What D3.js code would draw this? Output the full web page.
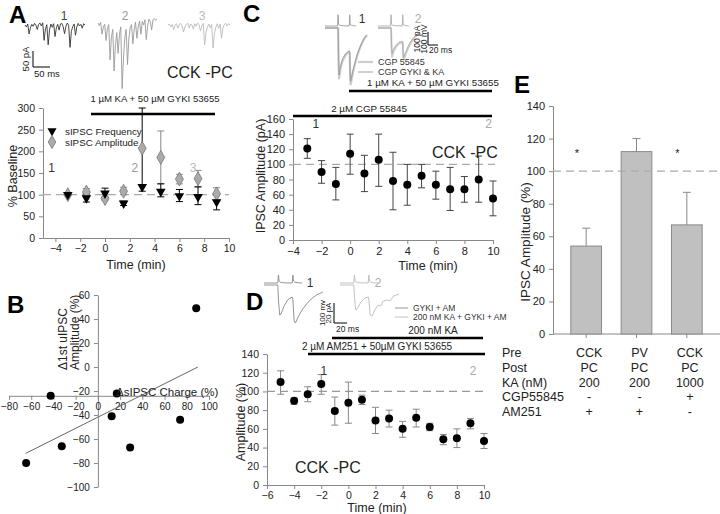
<!DOCTYPE html>
<html><head><meta charset="utf-8">
<script src="https://cdn.jsdelivr.net/npm/d3@7"></script>
<style>body{margin:0;background:#fff}svg{display:block}text{font-family:"Liberation Sans",Arial,sans-serif}</style>
</head><body><svg id="c" width="720" height="514"></svg>
<script>
// ---------- Panel A data ----------
const aTimes = [-3, -1.5, 0, 1.5, 3, 4.5, 6, 7.5, 9];
const aFreq   = [100, 92, 103, 80, 118, 107, 97, 95, 83];
const aFreqHi = [100, 102, 115, 85, 300, 125, 112, 118, 100];
const aFreqLo = [100, 83, 93, 75, 108, 95, 84, 77, 65];
const aAmp    = [100, 106, 91, 108, 207, 186, 136, 137, 102];
const aAmpHi  = [100, 114, 95, 117, 207, 247, 147, 156, 116];
const aAmpLo  = [100, 98, 87, 100, 207, 125, 125, 118, 88];
const aXTicks = [-4, -2, 0, 2, 4, 6, 8, 10];
const aYTicks = [0, 50, 100, 150, 200, 250, 300];
// sample traces (pA, 4 ms per sample)
const traceA1 = [0,-6,3,-28,-8,2,-4,5,-1,-14,2,6,-3,7,-48,-12,1,-62,-15,3,-7,4,-36,-9,2,-16,3,5,-5,-27,-4,6,-1,-70,-20,-5,3,-32,-6,5,-3,2,-10,4,0];
const traceA2 = [0,-8,2,-35,-12,-4,-55,-18,-5,-115,-45,-20,-150,-70,-30,-95,-35,-12,-205,-110,-45,-20,-130,-50,-15,-5,-65,-20,3,-48,-12,6,-35,5,-6,10,-52,-10,12,4,-22,10,14,8,12];
const traceA3 = [0,3,-6,2,-15,0,4,-10,2,5,-3,-22,-6,2,6,-9,3,0,-13,4,-4,6,2,-18,-3,5,-62,-22,-6,3,-9,2,-72,-26,-6,4,-11,3,-42,-9,2,5,-3,4,0];

// ---------- Panel B data ----------
const bCharge = [-42.5, 17, 12.4, 29, -32.5, -64.6, 74, 88.5];
const bAmp    = [-24, -22, -41, -67, -66, -80, -44, 49];
const bFitX = [-65, 90];
const bFitY = [-72, 0];
const bXTicks = [-80, -60, -40, -20, 0, 20, 40, 60, 80, 100];
const bYTicks = [-100, -80, -60, -40, -20, 0, 20, 40, 60];

// ---------- Panel C data ----------
const cTimes = [-3, -2, -1, 0, 1, 2, 3, 4, 5, 6, 7, 8, 9, 10];
const cAmp   = [121, 90, 74, 114, 88, 106, 78, 73, 85, 73, 67, 67, 80, 55];
const cHi    = [134, 105, 96, 140, 112, 140, 116, 100, 100, 91, 96, 84, 111, 78];
const cLo    = [108, 75, 53, 87, 64, 71, 40, 46, 69, 54, 39, 50, 50, 32];
const cXTicks = [-4, -2, 0, 2, 4, 6, 8, 10];
const cYTicks = [0, 20, 40, 60, 80, 100, 120, 140, 160];
const cVolt = [[0,0],[27,0],[28,90],[29,15],[31,6],[36,3],[45,1],[52,0],[53,90],[54,15],[56,6],[61,3],[66,0]];
const cCurCtl = [[0,0],[28,0],[29,-250],[30,-420],[31,-400],[33,-340],[38,-270],[45,-220],[52,-200],[53,-210],[54,-420],[55,-470],[56,-450],[60,-370],[65,-290],[70,-220],[75,-165],[80,-120],[85,-85],[90,-60]];
const cCurKA  = [[0,0],[28,0],[29,-230],[30,-390],[31,-375],[33,-320],[38,-255],[45,-210],[52,-190],[53,-200],[54,-400],[55,-445],[56,-430],[60,-350],[65,-275],[70,-210],[75,-160],[80,-115],[85,-80],[90,-55]];
const cCur2a  = [[0,0],[28,0],[29,-150],[30,-240],[31,-230],[33,-200],[38,-160],[45,-130],[52,-120],[53,-125],[54,-240],[55,-265],[56,-255],[60,-210],[65,-165],[70,-125],[75,-95],[80,-70],[85,-55],[90,-40]];
const cCur2b  = [[0,0],[28,0],[29,-130],[30,-215],[31,-205],[33,-180],[38,-145],[45,-120],[52,-110],[53,-115],[54,-220],[55,-245],[56,-235],[60,-195],[65,-150],[70,-115],[75,-88],[80,-65],[85,-50],[90,-36]];

// ---------- Panel D data ----------
const dTimes = [-5, -4, -3, -2, -1, 0, 1, 2, 3, 4, 5, 6, 7, 8, 9, 10];
const dAmp   = [110, 90, 97, 108, 79, 88, 91, 69, 71, 60, 72, 62, 49, 50, 66, 47];
const dHi    = [122, 93, 105, 118, 94, 110, 96, 83, 80, 68, 81, 66, 54, 60, 71, 55];
const dLo    = [97, 86, 89, 97, 64, 66, 86, 55, 62, 51, 62, 58, 43, 40, 60, 39];
const dXTicks = [-6, -4, -2, 0, 2, 4, 6, 8, 10];
const dYTicks = [0, 20, 40, 60, 80, 100, 120, 140];
const dVolt = [[0,0],[21,0],[22,40],[23,10],[25,4],[30,1],[43,0],[44,40],[45,10],[47,4],[52,1],[58,0]];
const dCur1 = [[0,0],[21,0],[22,-15],[24,-30],[26,-29],[30,-22],[36,-15],[43,-12],[44,-14],[46,-36],[48,-38],[52,-32],[58,-25],[65,-19],[72,-14],[80,-10],[90,-7]];
const dCur2 = [[0,0],[21,0],[22,-12],[24,-25],[27,-23],[32,-17],[38,-13],[43,-12],[44,-14],[46,-30],[49,-31],[53,-25],[58,-20],[62,-21],[66,-16],[72,-15],[76,-16],[82,-11],[90,-9]];

// ---------- Panel E data ----------
const eAmp = [54, 112, 67];
const eErr = [11, 8, 20];
const eSig = ["*", "", "*"];
const eYTicks = [0, 20, 40, 60, 80, 100, 120, 140];
const eRowLabels = ["Pre", "Post", "KA (nM)", "CGP55845", "AM251"];
const ePre  = ["CCK", "PV", "CCK"];
const ePost = ["PC", "PC", "PC"];
const eKA   = ["200", "200", "1000"];
const eCGP  = ["-", "-", "+"];
const eAM   = ["+", "+", "-"];

// ================= drawing =================
const svg = d3.select('#c');
const AX = '#888', TX = '#222';

function txt(x, y, s, o = {}) {
  return svg.append('text').attr('x', x).attr('y', y).text(s)
    .attr('font-size', o.size || 11).attr('fill', o.fill || TX)
    .attr('text-anchor', o.anchor || 'start').attr('font-weight', o.weight || 'normal');
}
function rtxt(x, y, s, o = {}) {
  return svg.append('text').attr('transform', `translate(${x},${y}) rotate(-90)`).text(s)
    .attr('font-size', o.size || 11).attr('fill', o.fill || TX)
    .attr('text-anchor', o.anchor || 'middle');
}
function styleAx(g, fs) {
  g.selectAll('path.domain').attr('stroke', AX);
  g.selectAll('.tick line').attr('stroke', AX);
  g.selectAll('.tick text').attr('fill', TX).attr('font-size', fs || 11)
    .attr('font-family', '"Liberation Sans",Arial,sans-serif');
}
function axisLeft(scale, x, ticks, fs) {
  const g = svg.append('g').attr('transform', `translate(${x},0)`)
    .call(d3.axisLeft(scale).tickValues(ticks).tickSize(4).tickSizeOuter(0).tickPadding(4));
  styleAx(g, fs); return g;
}
function axisBottom(scale, y, ticks, fs) {
  const ax = d3.axisBottom(scale).tickValues(ticks).tickSize(4).tickSizeOuter(0).tickPadding(3);
  const g = svg.append('g').attr('transform', `translate(0,${y})`).call(ax);
  styleAx(g, fs); return g;
}
function hline(x1, x2, y, o = {}) {
  return svg.append('line').attr('x1', x1).attr('x2', x2).attr('y1', y).attr('y2', y)
    .attr('stroke', o.stroke || '#000').attr('stroke-width', o.w || 1)
    .attr('stroke-dasharray', o.dash || null);
}
function vline(x, y1, y2, o = {}) {
  return svg.append('line').attr('x1', x).attr('x2', x).attr('y1', y1).attr('y2', y2)
    .attr('stroke', o.stroke || '#000').attr('stroke-width', o.w || 1);
}
function errBars(xs, his, los, xS, yS, color, cap) {
  const g = svg.append('g').attr('stroke', color).attr('stroke-width', 1);
  xs.forEach((t, i) => {
    const x = xS(t);
    g.append('line').attr('x1', x).attr('x2', x).attr('y1', yS(his[i])).attr('y2', yS(los[i]));
    g.append('line').attr('x1', x - cap).attr('x2', x + cap).attr('y1', yS(his[i])).attr('y2', yS(his[i]));
    g.append('line').attr('x1', x - cap).attr('x2', x + cap).attr('y1', yS(los[i])).attr('y2', yS(los[i]));
  });
}
const dash = '8,5';

// ---------- Panel A ----------
txt(9, 23, 'A', { size: 24, weight: 'bold', fill: '#000' });
const xA = d3.scaleLinear().domain([-5, 10]).range([43, 229]);
const yA = d3.scaleLinear().domain([0, 300]).range([238, 108]);
axisLeft(yA, 43, aYTicks, 10.5);
axisBottom(xA, 238, aXTicks, 10.5);
hline(43, 229, yA(100), { stroke: '#aaa', w: 1.3, dash });
rtxt(17, 176, '% Baseline', { size: 12.5 });
txt(136, 269, 'Time (min)', { size: 12.5, anchor: 'middle' });
errBars(aTimes, aAmpHi, aAmpLo, xA, yA, '#888', 3.5);
errBars(aTimes, aFreqHi, aFreqLo, xA, yA, '#000', 3.5);
svg.append('g').selectAll('path').data(aTimes).join('path')
  .attr('d', d3.symbol(d3.symbolDiamond, 55)())
  .attr('transform', (d, i) => `translate(${xA(d)},${yA(aAmp[i])})`)
  .attr('fill', '#aaa').attr('stroke', '#777').attr('stroke-width', 0.8);
svg.append('g').selectAll('path').data(aTimes).join('path')
  .attr('d', d3.symbol(d3.symbolTriangle, 40)())
  .attr('transform', (d, i) => `translate(${xA(d)},${yA(aFreq[i])}) rotate(180)`)
  .attr('fill', '#000');
// legend
svg.append('path').attr('d', d3.symbol(d3.symbolTriangle, 36)()).attr('transform', 'translate(52,131) rotate(180)').attr('fill', '#000');
txt(65, 134.5, 'sIPSC Frequency', { size: 9.8 });
svg.append('path').attr('d', d3.symbol(d3.symbolDiamond, 50)()).attr('transform', 'translate(52,142)').attr('fill', '#aaa').attr('stroke', '#777').attr('stroke-width', 0.8);
txt(65, 145.5, 'sIPSC Amplitude', { size: 9.8 });
txt(xA(-4.3), yA(150) - 1, '1', { size: 12, fill: '#333', anchor: 'middle' });
txt(xA(2.4), yA(150) - 1, '2', { size: 12, fill: '#999', anchor: 'middle' });
txt(xA(7.1), yA(150) - 1, '3', { size: 12, fill: '#bbb', anchor: 'middle' });
hline(91, 215, 114, { w: 2.5 });
txt(155, 102, '1 µM KA + 50 µM GYKI 53655', { size: 9.6, anchor: 'middle' });
txt(167, 78, 'CCK -PC', { size: 16 });
// A traces
function drawTrace(vals, x0, x1, y0, color) {
  const xs = d3.scaleLinear().domain([0, (vals.length - 1) * 4]).range([x0, x1]);
  const ys = d3.scaleLinear().domain([0, -50]).range([y0, y0 + 16]);
  svg.append('path').datum(vals).attr('fill', 'none').attr('stroke', color).attr('stroke-width', 0.9)
    .attr('d', d3.line().x((d, i) => xs(i * 4)).y(d => ys(d)));
}
drawTrace(traceA1, 25, 85, 25, '#333');
drawTrace(traceA2, 98, 157, 23, '#999');
drawTrace(traceA3, 168, 230, 25, '#bbb');
txt(64, 20, '1', { size: 12, fill: '#444', anchor: 'middle' });
txt(125, 20, '2', { size: 12, fill: '#999', anchor: 'middle' });
txt(202, 20, '3', { size: 12, fill: '#bbb', anchor: 'middle' });
vline(33, 51, 67); hline(33, 50, 67);
rtxt(29, 59, '50 pA', { size: 9.5 });
txt(34, 77, '50 ms', { size: 9.5 });

// ---------- Panel B ----------
txt(7, 313, 'B', { size: 24, weight: 'bold', fill: '#000' });
const xB = d3.scaleLinear().domain([-80, 100]).range([9, 209]);
const yB = d3.scaleLinear().domain([-100, 60]).range([487, 295]);
axisLeft(yB, xB(0), bYTicks, 10);
axisBottom(xB, yB(-24), bXTicks, 10);
svg.append('line').attr('x1', xB(bFitX[0])).attr('x2', xB(bFitX[1]))
  .attr('y1', yB(bFitY[0])).attr('y2', yB(bFitY[1])).attr('stroke', '#666').attr('stroke-width', 1);
svg.append('g').selectAll('circle').data(bCharge).join('circle')
  .attr('cx', d => xB(d)).attr('cy', (d, i) => yB(bAmp[i])).attr('r', 4).attr('fill', '#000');
txt(116, 396, 'ΔsIPSC Charge (%)', { size: 11.5 });
rtxt(67, 370, 'Δ1st uIPSC', { size: 12, anchor: 'start' });
rtxt(79, 370, 'Amplitude (%)', { size: 12, anchor: 'start' });

// ---------- Panel C ----------
txt(243, 22, 'C', { size: 24, weight: 'bold', fill: '#000' });
const xC = d3.scaleLinear().domain([-4, 10]).range([293, 493]);
const yC = d3.scaleLinear().domain([0, 160]).range([240, 119]);
axisLeft(yC, 293, cYTicks, 11);
axisBottom(xC, 240, cXTicks, 11);
hline(293, 495, yC(100), { stroke: '#aaa', w: 1.3, dash });
errBars(cTimes, cHi, cLo, xC, yC, '#444', 3.5);
svg.append('g').selectAll('circle').data(cTimes).join('circle')
  .attr('cx', d => xC(d)).attr('cy', (d, i) => yC(cAmp[i])).attr('r', 4).attr('fill', '#000');
rtxt(265, 176, 'IPSC Amplitude (pA)', { size: 12.5 });
txt(428, 270, 'Time (min)', { size: 12.5, anchor: 'middle' });
txt(432, 158, 'CCK -PC', { size: 16 });
hline(293, 492, 116, { w: 2.5 });
txt(369, 112, '2 µM CGP 55845', { size: 9.8, anchor: 'middle' });
hline(349, 492, 91, { w: 2.5 });
txt(433, 86, '1 µM KA + 50 µM GYKI 53655', { size: 9.8, anchor: 'middle' });
txt(xC(-2.4), 128, '1', { size: 12, fill: '#333', anchor: 'middle' });
txt(xC(9.7), 128, '2', { size: 12, fill: '#aaa', anchor: 'middle' });
// C traces
function drawEphys(pts, x0, x1, yZero, pxPerUnit, color, w) {
  const xs = d3.scaleLinear().domain([0, 90]).range([x0, x1]);
  const ys = d3.scaleLinear().domain([0, 100]).range([yZero, yZero - pxPerUnit * 100]);
  svg.append('path').datum(pts).attr('fill', 'none').attr('stroke', color).attr('stroke-width', w)
    .attr('stroke-linejoin', 'round')
    .attr('d', d3.line().x(d => xs(d[0])).y(d => ys(d[1])));
}
drawEphys(cCurCtl, 325, 367, 28, 0.12, '#ccc', 2.2);
drawEphys(cCurKA, 325, 367, 28, 0.12, '#999', 0.9);
drawEphys(cVolt, 325, 367, 26, 0.125, '#999', 0.9);
drawEphys(cCur2a, 378, 420, 28, 0.12, '#d0d0d0', 2);
drawEphys(cCur2b, 378, 420, 28, 0.12, '#aaa', 0.9);
drawEphys(cVolt, 378, 420, 26, 0.125, '#aaa', 0.9);
txt(362, 23, '1', { size: 12, fill: '#333', anchor: 'middle' });
txt(418, 23, '2', { size: 12, fill: '#aaa', anchor: 'middle' });
vline(428, 32, 45, { w: 1 }); hline(428, 438, 45);
rtxt(420, 39, '100 pA', { size: 8.5 });
rtxt(427, 39, '100 mV', { size: 8.5 });
txt(429, 53, '20 ms', { size: 8.5 });
hline(358, 373, 62, { stroke: '#ccc', w: 2.2 });
txt(378, 65, 'CGP 55845', { size: 9, fill: '#333' });
hline(358, 373, 72, { stroke: '#999', w: 0.9 });
txt(378, 75, 'CGP GYKI & KA', { size: 9, fill: '#333' });

// ---------- Panel D ----------
txt(246, 310, 'D', { size: 24, weight: 'bold', fill: '#000' });
const xD = d3.scaleLinear().domain([-6, 10]).range([267, 484]);
const yD = d3.scaleLinear().domain([0, 140]).range([485, 354]);
axisLeft(yD, 267, dYTicks, 10.5);
axisBottom(xD, 485, dXTicks, 10.5);
hline(267, 484, yD(100), { stroke: '#999', w: 1.3, dash });
errBars(dTimes, dHi, dLo, xD, yD, '#888', 3.5);
svg.append('g').selectAll('circle').data(dTimes).join('circle')
  .attr('cx', d => xD(d)).attr('cy', (d, i) => yD(dAmp[i])).attr('r', 4).attr('fill', '#000');
rtxt(245, 422, 'Amplitude (%)', { size: 12.5 });
txt(377, 512, 'Time (min)', { size: 12.5, anchor: 'middle' });
txt(295, 473, 'CCK -PC', { size: 16 });
hline(308, 485, 354, { w: 2.5 });
txt(377, 350, '2 µM AM251  + 50µM GYKI 53655', { size: 10, anchor: 'middle' });
hline(332, 483, 338, { w: 2.5 });
txt(433, 334, '200 nM KA', { size: 10, anchor: 'middle' });
txt(xD(-1.8), yD(122) + 4, '1', { size: 12, fill: '#333', anchor: 'middle' });
txt(xD(9.2), yD(122) + 4, '2', { size: 12, fill: '#aaa', anchor: 'middle' });
drawEphys(dCur1, 264, 323, 285, 1.0, '#888', 0.9);
drawEphys(dVolt, 264, 323, 283, 0.2, '#888', 0.9);
drawEphys(dCur2, 340, 399, 285, 1.0, '#bbb', 0.9);
drawEphys(dVolt, 340, 399, 283, 0.2, '#bbb', 0.9);
txt(310, 287, '1', { size: 12, fill: '#333', anchor: 'middle' });
txt(378, 287, '2', { size: 12, fill: '#aaa', anchor: 'middle' });
vline(334, 303, 323); hline(334, 347, 323);
rtxt(325, 313, '100 mv', { size: 8 });
rtxt(331, 313, '20 pA', { size: 8 });
txt(336, 332, '20 ms', { size: 8.5 });
hline(395, 408, 308, { stroke: '#888', w: 0.9 });
txt(413, 311, 'GYKI + AM', { size: 8.5, fill: '#333' });
hline(395, 408, 317, { stroke: '#bbb', w: 0.9 });
txt(413, 320, '200 nM KA + GYKI + AM', { size: 8.5, fill: '#333' });

// ---------- Panel E ----------
txt(514, 93, 'E', { size: 24, weight: 'bold', fill: '#000' });
const yE = d3.scaleLinear().domain([0, 140]).range([334, 106]);
const xE = d3.scaleBand().domain([0, 1, 2]).range([561, 712]).paddingInner(0.39).paddingOuter(0.195);
axisLeft(yE, 553, eYTicks, 11);
svg.append('line').attr('x1', 553).attr('x2', 720).attr('y1', 334).attr('y2', 334).attr('stroke', AX);
[0, 1, 2].forEach(i => vline(xE(i) + xE.bandwidth() / 2, 334, 338, { stroke: AX }));
svg.append('g').selectAll('rect').data(eAmp).join('rect')
  .attr('x', (d, i) => xE(i)).attr('width', xE.bandwidth())
  .attr('y', d => yE(d)).attr('height', d => 334 - yE(d))
  .attr('fill', '#c0c0c0').attr('stroke', '#8a8a8a').attr('stroke-width', 1);
eAmp.forEach((d, i) => {
  const cx = xE(i) + xE.bandwidth() / 2;
  vline(cx, yE(d), yE(d + eErr[i]), { stroke: '#888' });
  hline(cx - 4, cx + 4, yE(d + eErr[i]), { stroke: '#888' });
  if (eSig[i]) txt(xE(i) + 6, 157, eSig[i], { size: 11, anchor: 'middle' });
});
hline(553, 720, yE(100), { stroke: '#aaa', w: 1.3, dash });
rtxt(530, 242, 'IPSC Amplitude (%)', { size: 13.5 });
const eRows = [ePre, ePost, eKA, eCGP, eAM];
eRowLabels.forEach((lab, r) => {
  const y = 357 + r * 14.8;
  txt(502, y, lab, { size: 12.5 });
  eRows[r].forEach((v, i) => txt(xE(i) + xE.bandwidth() / 2 + 3, y, v, { size: 12.5, anchor: 'middle' }));
});
</script></body></html>
